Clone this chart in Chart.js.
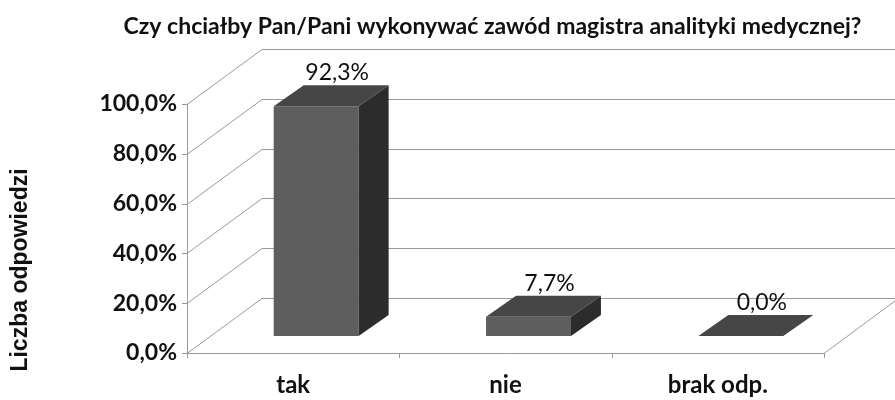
<!DOCTYPE html>
<html>
<head>
<meta charset="utf-8">
<script src="https://cdn.jsdelivr.net/npm/chart.js@4/dist/chart.umd.min.js"></script>
<style>
  html, body { margin: 0; padding: 0; background: #fff; }
  #wrap { width: 895px; height: 400px; }
</style>
</head>
<body>
<div id="wrap"><canvas id="odpChart"></canvas></div>
<script>
// data
var categories = ["tak", "nie", "brak odp."];
var values = [92.3, 7.7, 0.0];
var yTicks = [0, 20, 40, 60, 80, 100];
var chartTitle = "Czy chciałby Pan/Pani wykonywać zawód magistra analityki medycznej?";
var yTitle = "Liczba odpowiedzi";

// polish number format, 92.3 -> "92,3%"
function pct(v) { return v.toFixed(1).replace('.', ',') + '%'; }

// depth of the 3d box and of the bars inside it
var wall = { dx: 75, dy: -55 };
var bar3d = { fx: 23, fy: -17, dx: 30, dy: -21 };

var box3d = {
    id: 'box3d',
    beforeDatasetsDraw: function (chart) {
        var ctx = chart.ctx, a = chart.chartArea, ys = chart.scales.y;
        ctx.save();
        ctx.strokeStyle = '#9a9a9a';
        ctx.lineWidth = 1;
        ctx.beginPath();
        yTicks.forEach(function (t) {
            var py = Math.round(ys.getPixelForValue(t)) + 0.5;
            ctx.moveTo(a.left, py);
            ctx.lineTo(a.left + wall.dx, py + wall.dy);
            ctx.lineTo(a.right + wall.dx, py + wall.dy);
            ctx.moveTo(a.left - 5, py);
            ctx.lineTo(a.left, py);
        });
        ctx.moveTo(a.left + 0.5, a.top);
        ctx.lineTo(a.left + 0.5, a.bottom);
        ctx.moveTo(a.left, a.bottom + 0.5);
        ctx.lineTo(a.right, a.bottom + 0.5);
        ctx.lineTo(a.right + wall.dx, a.bottom + wall.dy);
        for (var i = 0; i <= categories.length; i++) {
            var px = Math.round(a.left + (a.right - a.left) * i / categories.length) + 0.5;
            ctx.moveTo(px, a.bottom);
            ctx.lineTo(px, a.bottom + 5);
        }
        ctx.stroke();
        ctx.restore();
        // front faces get drawn by chart.js, pushed back into the box
        ctx.save();
        ctx.translate(bar3d.fx, bar3d.fy);
    },
    afterDatasetsDraw: function (chart) {
        var ctx = chart.ctx;
        var meta = chart.getDatasetMeta(0);
        meta.data.forEach(function (bar) {
            var x0 = bar.x - bar.width / 2, x1 = bar.x + bar.width / 2;
            var top = bar.y, base = bar.base;
            // side
            ctx.fillStyle = '#2c2c2c';
            ctx.beginPath();
            ctx.moveTo(x1, top);
            ctx.lineTo(x1 + bar3d.dx, top + bar3d.dy);
            ctx.lineTo(x1 + bar3d.dx, base + bar3d.dy);
            ctx.lineTo(x1, base);
            ctx.closePath();
            ctx.fill();
            // top
            ctx.fillStyle = '#464646';
            ctx.beginPath();
            ctx.moveTo(x0, top);
            ctx.lineTo(x1, top);
            ctx.lineTo(x1 + bar3d.dx, top + bar3d.dy);
            ctx.lineTo(x0 + bar3d.dx, top + bar3d.dy);
            ctx.closePath();
            ctx.fill();
        });
        // value labels above the bars
        ctx.fillStyle = '#111';
        ctx.font = '23px Lato';
        ctx.textAlign = 'center';
        ctx.textBaseline = 'bottom';
        meta.data.forEach(function (bar, i) {
            ctx.fillText(pct(values[i]), bar.x + bar3d.dx / 2 + 6, bar.y + bar3d.dy - 1);
        });
        ctx.restore();
    },
    afterDraw: function (chart) {
        var ctx = chart.ctx;
        ctx.save();
        ctx.translate(21, 270);
        ctx.rotate(-Math.PI / 2);
        ctx.fillStyle = '#111';
        ctx.font = 'bold 23px "Liberation Sans"';
        ctx.textAlign = 'center';
        ctx.textBaseline = 'middle';
        ctx.fillText(yTitle, 0, 0);
        ctx.restore();
    }
};

var ctx = document.getElementById("odpChart");
var odpChart = new Chart(ctx, {
    type: 'bar',
    data: {
        labels: categories,
        datasets: [{
            data: values,
            backgroundColor: '#5e5e5e',
            borderWidth: 0,
            barPercentage: 0.4,
            categoryPercentage: 1.0
        }]
    },
    options: {
        responsive: true,
        maintainAspectRatio: false,
        animation: false,
        layout: { padding: { left: 90, right: 0, top: 0, bottom: 0 } },
        plugins: {
            legend: { display: false },
            tooltip: { enabled: false },
            title: {
                display: true,
                text: chartTitle,
                color: '#111',
                font: { family: 'Lato', size: 23, weight: 'bold' },
                padding: { top: 13, bottom: 63.4 }
            }
        },
        scales: {
            x: {
                grid: { display: false, drawTicks: false },
                border: { display: false },
                ticks: { color: '#111', padding: 18, font: { family: 'Lato', size: 24, weight: 'bold' } },
                afterFit: function (s) { s.height = 47; }
            },
            y: {
                min: 0,
                max: 100,
                grid: { display: false, drawTicks: false },
                border: { display: false },
                ticks: {
                    stepSize: 20,
                    padding: 10,
                    color: '#111',
                    font: { family: 'Lato', size: 23, weight: 'bold' },
                    callback: function (v) { return pct(v); }
                },
                afterFit: function (s) { s.width = 97; }
            },
            yR: {
                position: 'right',
                grid: { display: false, drawTicks: false },
                border: { display: false },
                ticks: { display: false },
                afterFit: function (s) { s.width = 71; }
            }
        }
    },
    plugins: [box3d]
});
</script>
</body>
</html>
